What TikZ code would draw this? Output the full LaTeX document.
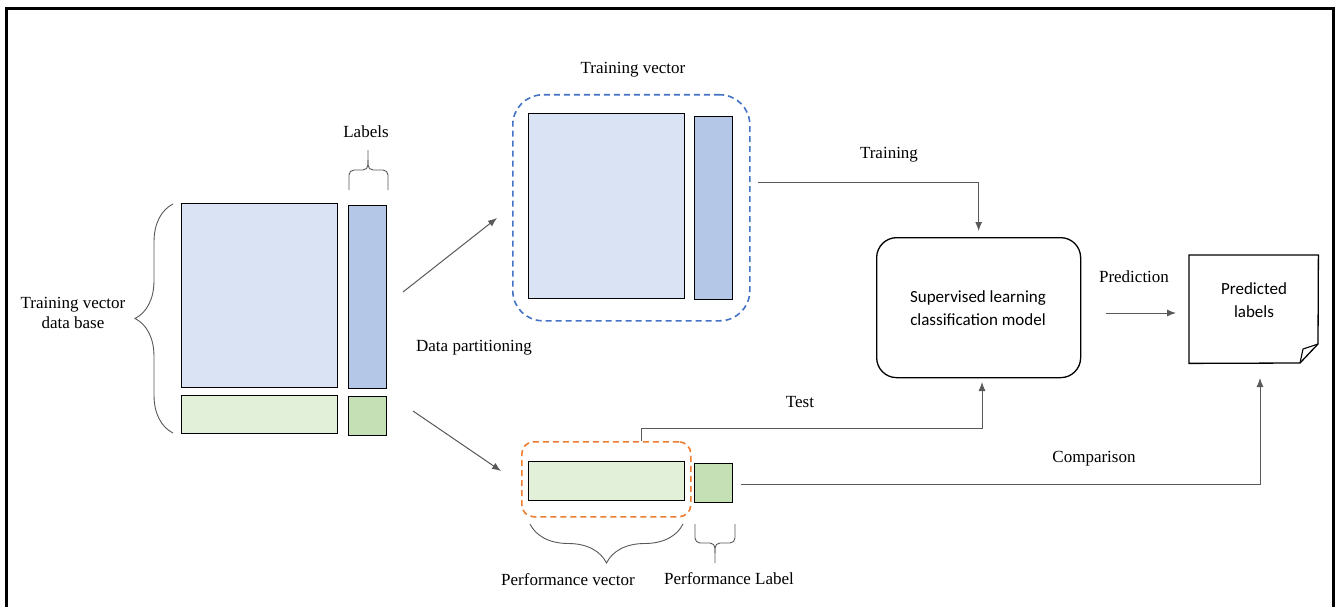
\documentclass[tikz,border=0pt]{standalone}
\usepackage{fontspec}
\setmainfont{Liberation Serif}
\newfontfamily\calibfont{Carlito}
\usetikzlibrary{decorations.pathreplacing,arrows.meta}
\definecolor{featblue}{HTML}{DAE3F3}
\definecolor{labblue}{HTML}{B4C7E7}
\definecolor{featgreen}{HTML}{E2F0D9}
\definecolor{labgreen}{HTML}{C5E0B4}
\definecolor{dashblue}{HTML}{4472C4}
\definecolor{dashorange}{HTML}{ED7D31}
\definecolor{linkgrey}{HTML}{595959}
\begin{document}
\begin{tikzpicture}[x=1pt,y=-1pt,
  cell/.style={draw=black, line width=1.3pt, inner sep=0pt, anchor=north west},
  txt/.style={font=\fontsize{17}{20}\selectfont, align=center, inner sep=0pt},
  sanstxt/.style={font=\calibfont\fontsize{17}{23}\selectfont, align=center, inner sep=0pt},
  link/.style={draw=linkgrey, line width=1pt},
  arr/.style={link, -{Latex[length=9pt,width=7pt]}},
  bracestyle/.style={draw=linkgrey, line width=0.9pt, decorate},
  narrowbrace/.style={draw=linkgrey, line width=0.9pt, rounded corners=5pt},
  groupbox/.style={line width=1.6pt, dash pattern=on 6pt off 4pt, inner sep=0pt, anchor=north west}
]
\useasboundingbox (0,0) rectangle (1338,607);
\fill[white] (0,0) rectangle (1338,607);
% outer frame
\draw[line width=2.6pt] (6.5,610) -- (6.5,8.5) -- (1333.5,8.5) -- (1333.5,610);

% full data base
\node[cell, fill=featblue, minimum width=156pt, minimum height=184pt] (dbfeat) at (181,203) {};
\node[cell, fill=labblue, minimum width=38pt, minimum height=183pt] (dblab) at (348,205) {};
\node[cell, fill=featgreen, minimum width=156pt, minimum height=38pt] (dbtest) at (181,395) {};
\node[cell, fill=labgreen, minimum width=38pt, minimum height=39pt] (dbtestlab) at (348,396) {};

\draw[bracestyle, decoration={brace, amplitude=38pt}] (173,433) -- (173,204);
\node[txt] (dbtext) at (73,313) {Training vector\\data base};
% narrow brace over the label column
\draw[narrowbrace] (349,190) -- (349,170) -- (368,170) -- (368,150);
\draw[narrowbrace] (368,160) -- (368,170) -- (388,170) -- (388,190);
\node[txt] (labtext) at (366,132) {Labels};

% training part
\node[groupbox, draw=dashblue, rounded corners=30pt, minimum width=237pt, minimum height=226pt] (tvbox) at (512,94) {};
\node[cell, fill=featblue, minimum width=156pt, minimum height=185pt] (tvfeat) at (528,113) {};
\node[cell, fill=labblue, minimum width=38pt, minimum height=183pt] (tvlab) at (694,116) {};
\node[txt] (tvtext) at (633,70) {Training vector};

% performance part
\node[groupbox, draw=dashorange, rounded corners=12pt, minimum width=169pt, minimum height=75pt] (pvbox) at (521,441) {};
\node[cell, fill=featgreen, minimum width=156pt, minimum height=39pt] (pvfeat) at (528,461) {};
\node[cell, fill=labgreen, minimum width=38pt, minimum height=39pt] (pvlab) at (694,463) {};
\draw[bracestyle, decoration={brace, amplitude=39pt}] (683,524) -- (530,524);
% narrow brace under the performance label
\draw[narrowbrace] (695,524) -- (695,543) -- (715,543) -- (715,563);
\draw[narrowbrace] (715,553) -- (715,543) -- (735,543) -- (735,524);
\node[txt] (pvtext) at (568,580) {Performance vector};
\node[txt] (pltext) at (729,579) {Performance Label};

% partition arrows
\coordinate (partA) at (403,292);
\coordinate (partB) at (497,218);
\coordinate (partC) at (413,411);
\coordinate (partD) at (501,471);
\draw[arr] (partA) -- (partB);
\draw[arr] (partC) -- (partD);
\node[txt] (parttext) at (474,348) {Data partitioning};

% model and prediction
\node[draw=black, line width=1.3pt, rounded corners=20pt, minimum width=204pt, minimum height=140pt, inner sep=0pt, anchor=north west] (model) at (876,237) {};
\node[sanstxt] (modeltext) at (978,308) {Supervised learning\\classification model};

\node[inner sep=0pt, minimum width=129pt, minimum height=108pt, anchor=north west] (pred) at (1189,255) {};
\draw[line width=1.3pt, line join=miter] (pred.north west) -- (pred.north east) -- (1318,344) -- (1300,363) -- (pred.south west) -- cycle;
\draw[line width=1.1pt, line join=round] (1318,344) -- (1303,349) -- (1300,363);
\node[sanstxt] (predtext) at (1254,300) {Predicted\\labels};

% training link
\coordinate (trainstart) at (758,182);
\draw[arr, shorten >=6pt] (trainstart) -| (model.north);
\node[txt] (traintext) at (889,155) {Training};

% test link
\coordinate (teststart) at (641,441);
\coordinate (testbend) at (641,428);
\coordinate (testend) at (982,377);
\draw[arr, shorten >=5pt] (teststart) -- (testbend) -| (testend);
\node[txt] (testtext) at (800,402) {Test};

% prediction link
\coordinate (predstart) at (1106,313);
\coordinate (predend) at (1176,313);
\draw[arr] (predstart) -- (predend);
\node[txt] (predlinktext) at (1134,277) {Prediction};

% comparison link
\coordinate (compstart) at (741,484);
\coordinate (compend) at (1260,363);
\draw[arr, shorten >=15pt] (compstart) -| (compend);
\node[txt] (comptext) at (1094,459) {Comparison};
\end{tikzpicture}
\end{document}
